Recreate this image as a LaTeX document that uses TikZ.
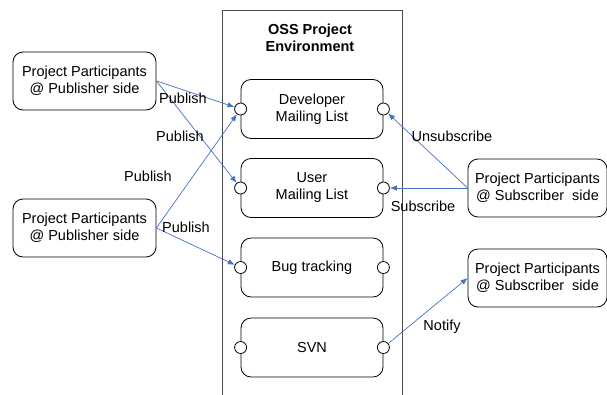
\documentclass[tikz,border=0pt]{standalone}
\usepackage{fontspec}
\setmainfont{Liberation Sans}
\usetikzlibrary{arrows.meta}
\definecolor{arrowblue}{RGB}{68,114,196}

\begin{document}
\begin{tikzpicture}[x=1pt,y=-1pt,
  every node/.style={font=\fontsize{14.5}{17}\selectfont},
  part/.style={draw,line width=0.8pt,rounded corners=10pt,minimum width=143pt,minimum height=58pt,align=center,inner sep=0pt},
  comp/.style={draw,line width=0.8pt,rounded corners=10pt,minimum width=142pt,minimum height=59pt,align=center,inner sep=0pt},
  port/.style={draw,line width=0.8pt,circle,fill=white,minimum size=12pt,inner sep=0pt},
  flow/.style={draw=arrowblue,line width=0.7pt,-{Latex[length=7pt,width=5.5pt]}}]

\useasboundingbox (0,0) rectangle (607,394);

% environment
\draw[black!70,line width=0.9pt] (222,400) |- (402,10) -- (402,400);
\node[font=\fontsize{14.5}{17}\selectfont\bfseries,align=center] (title) at (310,38) {OSS Project\\Environment};

% components
\node[comp] (dev) at (312,109) {Developer\\Mailing List};
\node[comp] (usr) at (312,188) {User\\Mailing List};
\node[comp] (bug) at (312,267.5) {Bug tracking};
\node[comp] (svn) at (312,347.5) {SVN};

\node[port] (devL) at (dev.west) {};
\node[port] (devR) at (dev.east) {};
\node[port] (usrL) at (usr.west) {};
\node[port] (usrR) at (usr.east) {};
\node[port] (bugL) at (bug.west) {};
\node[port] (bugR) at (bug.east) {};
\node[port] (svnL) at (svn.west) {};
\node[port] (svnR) at (svn.east) {};

% participants
\node[part] (pub1) at (84.5,81) {Project Participants\\@ Publisher side};
\node[part] (pub2) at (84.5,228) {Project Participants\\@ Publisher side};
\node[part,minimum width=139pt] (sub1) at (537.5,188) {Project Participants\\@ Subscriber~ side};
\node[part,minimum width=139pt] (sub2) at (537.5,278) {Project Participants\\@ Subscriber~ side};

% flows
\draw[flow] (pub1.east) -- (devL);
\draw[flow] (pub1.east) -- (usrL);
\draw[flow] (pub2.east) -- (devL);
\draw[flow] (pub2.east) -- (bugL);
\draw[flow] (sub1.west) -- (devR);
\draw[flow] (sub1.west) -- (usrR);
\draw[flow] (svnR) -- (sub2.west);

\node (pubA) at (183,98) {Publish};
\node (pubB) at (180,136) {Publish};
\node (pubC) at (148,176) {Publish};
\node (pubD) at (186,227) {Publish};
\node (unsub) at (452,136) {Unsubscribe};
\node (sub) at (423,206) {Subscribe};
\node (notify) at (442,327) {Notify};

\end{tikzpicture}
\end{document}
